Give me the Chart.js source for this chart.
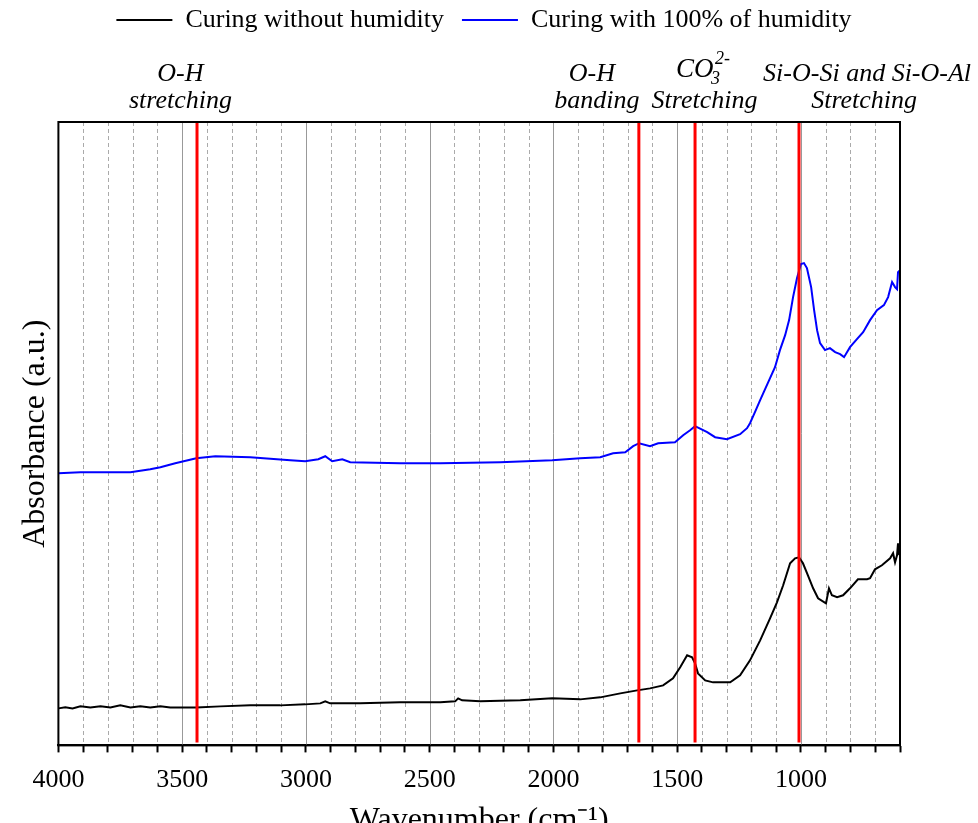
<!DOCTYPE html>
<html>
<head>
<meta charset="utf-8">
<script src="https://cdn.jsdelivr.net/npm/chart.js@4/dist/chart.umd.min.js"></script>
<style>
    html, body { margin: 0; padding: 0; background: #fff; overflow: hidden; }
    #wrap { width: 978px; height: 844px; position: relative; }
</style>
</head>
<body>
<div id="wrap"><canvas id="ftirChart"></canvas></div>
<script>
// FTIR spectra (absorbance in arbitrary units)
const seriesNames = ['Curing without humidity', 'Curing with 100% of humidity'];

const wavenumberDry = [4000, 3972, 3943, 3911, 3871, 3830, 3790, 3750, 3709, 3669, 3629, 3588, 3548, 3507, 3443,
    3346, 3225, 3104, 3003, 2942, 2922, 2902, 2781, 2619, 2457, 2397, 2385, 2369, 2296, 2134, 2005, 1892, 1811,
    1730, 1662, 1610, 1557, 1517, 1488, 1460, 1440, 1428, 1416, 1387, 1355, 1286, 1246, 1206, 1165, 1125, 1097,
    1072, 1044, 1024, 1008, 992, 972, 951, 931, 899, 887, 875, 854, 830, 802, 770, 733, 721, 701, 673, 640,
    628, 620, 612, 608, 604, 600];
const absorbanceDry = [37, 38, 37, 39, 38, 39, 38, 40, 38, 39, 38, 39, 38, 38, 38,
    39, 40, 40, 41, 42, 44, 42, 42, 43, 43, 44, 47, 45, 44, 45, 47, 46, 48,
    52, 55, 57, 60, 67, 78, 90, 88, 82, 72, 65, 63, 63, 70, 85, 105, 127, 143,
    160, 182, 187, 188, 182, 170, 157, 147, 142, 157, 150, 148, 150, 157, 166, 166, 167, 176, 180, 187,
    192, 183, 190, 202, 192, 193];

const wavenumberWet = [4000, 3911, 3830, 3709, 3629, 3588, 3528, 3443, 3366, 3225, 3063, 3003, 2950, 2922, 2894,
    2853, 2821, 2619, 2457, 2215, 2005, 1892, 1811, 1759, 1710, 1678, 1654, 1610, 1577, 1509, 1476, 1448, 1428,
    1379, 1347, 1299, 1246, 1218, 1206, 1186, 1165, 1125, 1105, 1085, 1064, 1048, 1032, 1016, 1000, 988, 976,
    959, 947, 935, 923, 903, 883, 862, 842, 826, 802, 774, 749, 721, 693, 665, 648, 632, 620, 612, 608, 600];
const absorbanceWet = [272, 273, 273, 273, 276, 278, 282, 287, 289, 288, 285, 284, 286, 289, 284,
    286, 283, 282, 282, 283, 285, 287, 288, 292, 293, 299, 302, 299, 302, 303, 310, 315, 319,
    313, 308, 306, 311, 317, 322, 333, 345, 367, 378, 395, 410, 425, 448, 467, 481, 482, 477,
    458, 435, 415, 402, 395, 397, 393, 391, 388, 398, 406, 413, 425, 435, 440, 448, 463, 458, 456, 473, 475];

// band assignments (red markers)
const bandWavenumbers = [3440, 1655, 1428, 1008];
const xTickLabels = [4000, 3500, 3000, 2500, 2000, 1500, 1000];

const SERIF = '"Liberation Serif", "Times New Roman", serif';

function toPoints(xs, ys) {
    return xs.map((x, i) => ({ x: x, y: ys[i] }));
}

const datasets = [
    {
        label: seriesNames[0],
        data: toPoints(wavenumberDry, absorbanceDry),
        borderColor: '#000000',
        backgroundColor: '#000000',
        borderWidth: 2,
        pointRadius: 0,
        order: 1
    },
    {
        label: seriesNames[1],
        data: toPoints(wavenumberWet, absorbanceWet),
        borderColor: '#0000ff',
        backgroundColor: '#0000ff',
        borderWidth: 2,
        pointRadius: 0,
        order: 1
    }
];
bandWavenumbers.forEach(wn => {
    datasets.push({
        label: 'band',
        data: [{ x: wn, y: 3 }, { x: wn, y: 623 }],
        borderColor: '#ff0000',
        borderWidth: 3,
        pointRadius: 0,
        order: 0
    });
});

// dashed minor / solid major vertical grid, frame, band labels
const decorations = {
    id: 'decorations',
    beforeDraw(chart) {
        const ctx = chart.ctx;
        ctx.save();
        ctx.fillStyle = '#fff';
        ctx.fillRect(0, 0, chart.width, chart.height);
        ctx.restore();
    },
    beforeDatasetsDraw(chart) {
        const { ctx, chartArea, scales } = chart;
        const xs = scales.x;
        ctx.save();
        ctx.lineWidth = 1;
        for (let v = 700; v < 4000; v += 100) {
            const px = Math.round(xs.getPixelForValue(v)) + 0.5;
            if (v % 500 === 0) {
                ctx.strokeStyle = '#999';
                ctx.setLineDash([]);
            } else {
                ctx.strokeStyle = '#aaa';
                ctx.setLineDash([4, 3]);
            }
            ctx.beginPath();
            ctx.moveTo(px, chartArea.top);
            ctx.lineTo(px, chartArea.bottom);
            ctx.stroke();
        }
        ctx.restore();
    },
    afterDraw(chart) {
        const { ctx, chartArea, scales } = chart;
        const xs = scales.x;
        ctx.save();
        ctx.strokeStyle = '#000';
        ctx.lineWidth = 2;
        ctx.strokeRect(chartArea.left, chartArea.top, chartArea.right - chartArea.left, chartArea.bottom - chartArea.top);

        ctx.fillStyle = '#000';
        ctx.textAlign = 'center';
        ctx.textBaseline = 'alphabetic';
        ctx.font = 'italic 26px ' + SERIF;
        const line1 = 81, line2 = 108;
        const put = (txt, wn, y) => ctx.fillText(txt, xs.getPixelForValue(wn), y);

        put('O-H', 3507, line1);
        put('stretching', 3507, line2);
        put('O-H', 1845, line1);
        put('banding', 1825, line2);
        put('Stretching', 1390, line2);
        put('Si-O-Si and Si-O-Al', 733, line1);
        put('Stretching', 745, line2);

        // CO3 2- with sub/superscript
        const cx = xs.getPixelForValue(1400);
        const coW = ctx.measureText('CO').width;
        ctx.font = 'italic 18px ' + SERIF;
        const supW = ctx.measureText('2-').width;
        const total = coW + supW + 1;
        let x0 = cx - total / 2;
        ctx.textAlign = 'left';
        ctx.font = 'italic 27px ' + SERIF;
        ctx.fillText('CO', x0, line1 - 4);
        ctx.font = 'italic 18px ' + SERIF;
        ctx.fillText('3', x0 + coW - 1, line1 + 3);
        ctx.fillText('2-', x0 + coW + 3, line1 - 17);
        ctx.restore();
    }
};

// push the plot area down below legend + band labels, nudge legend
const legendSpacer = {
    id: 'legendSpacer',
    beforeInit(chart) {
        const legend = chart.legend;
        const fit = legend.fit;
        legend.fit = function () {
            fit.call(this);
            this.height += 68;
        };
        const draw = legend.draw;
        legend.draw = function () {
            const c = this.ctx;
            c.save();
            c.translate(28, -11);
            draw.call(this);
            c.restore();
        };
    }
};

const ctx = document.getElementById('ftirChart').getContext('2d');
const ftirChart = new Chart(ctx, {
    type: 'line',
    data: { datasets: datasets },
    plugins: [decorations, legendSpacer],
    options: {
        responsive: true,
        maintainAspectRatio: false,
        animation: false,
        layout: { padding: { left: 12, right: 78, top: 0, bottom: 0 } },
        plugins: {
            tooltip: { enabled: false },
            legend: {
                position: 'top',
                labels: {
                    color: '#000',
                    font: { family: SERIF, size: 26 },
                    boxWidth: 56,
                    boxHeight: 2,
                    padding: 18,
                    filter: item => item.text !== 'band',
                    generateLabels: chart => {
                        const items = Chart.defaults.plugins.legend.labels.generateLabels(chart);
                        items.forEach(it => { it.lineWidth = 0; });
                        return items;
                    }
                }
            }
        },
        scales: {
            x: {
                type: 'linear',
                reverse: true,
                min: 600,
                max: 4000,
                ticks: {
                    stepSize: 100,
                    autoSkip: false,
                    maxRotation: 0,
                    padding: 12,
                    color: '#000',
                    font: { family: SERIF, size: 26 },
                    callback: v => xTickLabels.includes(v) ? String(v) : ''
                },
                grid: {
                    drawOnChartArea: false,
                    drawTicks: true,
                    tickLength: 7,
                    tickColor: '#000',
                    tickWidth: 2
                },
                border: { display: true, color: '#000', width: 2 },
                title: {
                    display: true,
                    text: 'Wavenumber (cm⁻¹)',
                    color: '#000',
                    font: { family: SERIF, size: 32 },
                    padding: { top: -6, bottom: 4 }
                }
            },
            y: {
                min: 0,
                max: 623,
                ticks: { display: false },
                grid: { display: false, drawTicks: false },
                border: { display: false },
                title: {
                    display: true,
                    text: 'Absorbance (a.u.)',
                    color: '#000',
                    font: { family: SERIF, size: 32 },
                    padding: 4
                }
            }
        }
    }
});
</script>
</body>
</html>
